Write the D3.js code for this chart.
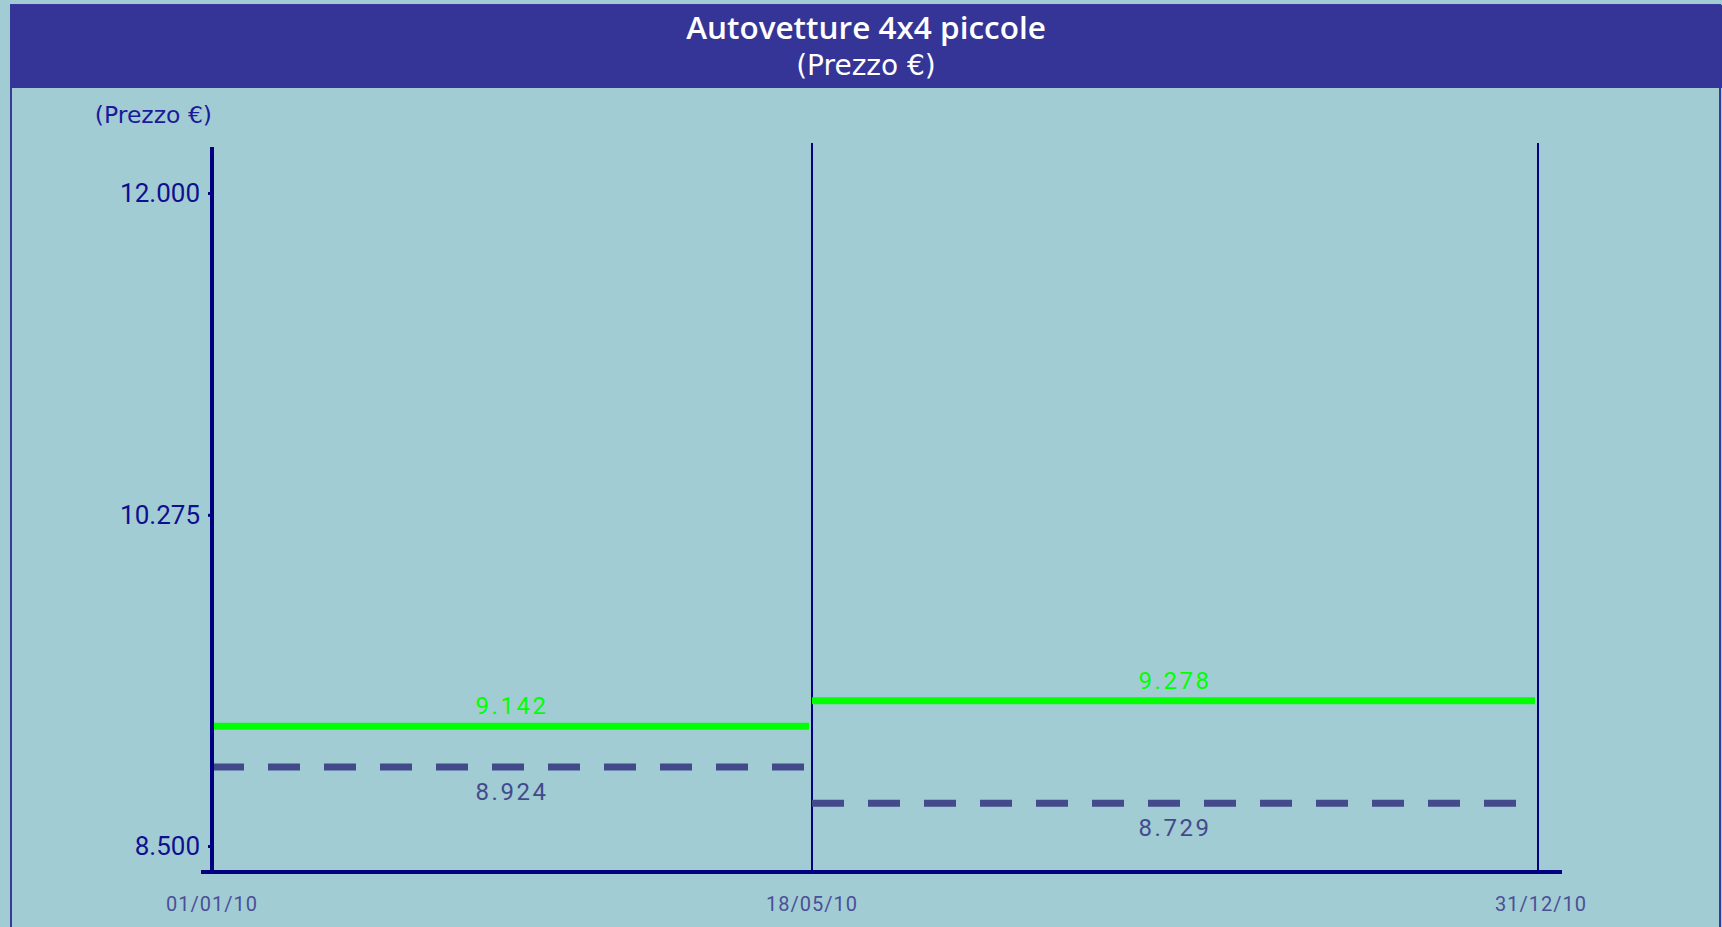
<!DOCTYPE html>
<html>
<head>
<meta charset="utf-8">
<script src="https://cdn.jsdelivr.net/npm/d3@7/dist/d3.min.js"></script>
<style>
  html, body { margin: 0; padding: 0; background: #A2CCD4; overflow: hidden; }
  svg { display: block; }
</style>
</head>
<body>
<script>
// ---- data ----
const titleLines = ["Autovetture 4x4 piccole", "(Prezzo €)"];
const yAxisTitle = "(Prezzo €)";
const periodLabels = ["01/01/10", "18/05/10", "31/12/10"];
const priceGreen = [9142, 9278];     // solid green series
const priceDashed = [8924, 8729];    // dashed series
const yTickValues = [8500, 10275, 12000];

// ---- layout ----
const W = 1722, H = 927;
const plotLeft = 212, plotRight = 1538, breakFrac = 600 / 1326;
const navy = "#000080";
const sans = "'DejaVu Sans', sans-serif";

const svg = d3.select("body").append("svg").attr("width", W).attr("height", H);

svg.append("rect").attr("width", W).attr("height", H).attr("fill", "#A2CCD4");
// frame
svg.append("rect").attr("x", 11).attr("y", 5).attr("width", 1709).attr("height", 940)
  .attr("fill", "none").attr("stroke", "#3A3A9A").attr("stroke-width", 2);
// title bar
svg.append("rect").attr("x", 10).attr("y", 5).attr("width", 1712).attr("height", 83).attr("fill", "#353597");
svg.append("text").attr("x", 866).attr("y", 39).attr("text-anchor", "middle")
  .attr("font-family", "'Open Sans', sans-serif").attr("font-size", 31.5).attr("font-weight", 600)
  .attr("fill", "#ffffff").text(titleLines[0]);
svg.append("text").attr("x", 866).attr("y", 75).attr("text-anchor", "middle")
  .attr("font-family", sans).attr("font-size", 28)
  .attr("fill", "#ffffff").text(titleLines[1]);

// y-axis title
svg.append("text").attr("x", 212).attr("y", 123).attr("text-anchor", "end")
  .attr("font-family", sans).attr("font-size", 23.5)
  .attr("fill", "#1a1a9a").text(yAxisTitle);

// scales
const x = d3.scaleLinear().domain([0, 1, 2])
  .range([plotLeft, plotLeft + (plotRight - plotLeft) * breakFrac, plotRight]);
const y = d3.scaleLinear().domain([8500, 12000]).range([846, 193]);

const fmtIt = v => String(v).replace(/(\d)(?=(\d{3})+$)/g, "$1.");

// y axis ticks
const yAxis = d3.axisLeft(y).tickValues(yTickValues).tickSize(4).tickPadding(8).tickFormat(fmtIt);
const gy = svg.append("g").attr("transform", `translate(${plotLeft},0)`).call(yAxis);
gy.select(".domain").remove();
gy.selectAll(".tick line").attr("stroke", navy).attr("stroke-width", 3);
gy.selectAll(".tick text").attr("font-family", "Roboto, sans-serif").attr("font-size", 26)
  .attr("fill", "#0f0f8f");

// vertical period lines
svg.append("g").selectAll("line").data([1, 2]).join("line")
  .attr("x1", d => x(d)).attr("x2", d => x(d))
  .attr("y1", 143).attr("y2", 872)
  .attr("stroke", navy).attr("stroke-width", 2);

// green series
const segs = d3.range(priceGreen.length);
svg.append("g").selectAll("line").data(segs).join("line")
  .attr("x1", i => x(i)).attr("x2", i => x(i + 1) - 3)
  .attr("y1", i => y(priceGreen[i])).attr("y2", i => y(priceGreen[i]))
  .attr("stroke", "#00ff00").attr("stroke-width", 7);
// dashed series
svg.append("g").selectAll("line").data(segs).join("line")
  .attr("x1", i => x(i)).attr("x2", i => x(i + 1) - 6)
  .attr("y1", i => y(priceDashed[i])).attr("y2", i => y(priceDashed[i]))
  .attr("stroke", "#434a8c").attr("stroke-width", 7).attr("stroke-dasharray", "32,24");

// value labels
svg.append("g").selectAll("text").data(segs).join("text")
  .attr("x", i => (x(i) + x(i + 1)) / 2).attr("y", i => y(priceGreen[i]) - 12)
  .attr("text-anchor", "middle").attr("font-family", "Roboto, sans-serif")
  .attr("font-size", 24).attr("letter-spacing", 2.5).attr("fill", "#00ff00")
  .text(i => fmtIt(priceGreen[i]));
svg.append("g").selectAll("text").data(segs).join("text")
  .attr("x", i => (x(i) + x(i + 1)) / 2).attr("y", i => y(priceDashed[i]) + 33)
  .attr("text-anchor", "middle").attr("font-family", "Roboto, sans-serif")
  .attr("font-size", 24).attr("letter-spacing", 2.5).attr("fill", "#434a8c")
  .text(i => fmtIt(priceDashed[i]));

// main axes lines
svg.append("line").attr("x1", plotLeft).attr("x2", plotLeft).attr("y1", 147).attr("y2", 874)
  .attr("stroke", navy).attr("stroke-width", 4);
svg.append("line").attr("x1", 201).attr("x2", 1562).attr("y1", 872).attr("y2", 872)
  .attr("stroke", navy).attr("stroke-width", 4);

// x labels
svg.append("g").selectAll("text").data(periodLabels).join("text")
  .attr("x", (d, i) => x(i) + (i === 2 ? 3 : 0)).attr("y", 911).attr("text-anchor", "middle")
  .attr("font-family", "Roboto, sans-serif").attr("font-size", 20).attr("letter-spacing", 1)
  .attr("fill", "#4a5096").text(d => d);
</script>
</body>
</html>
